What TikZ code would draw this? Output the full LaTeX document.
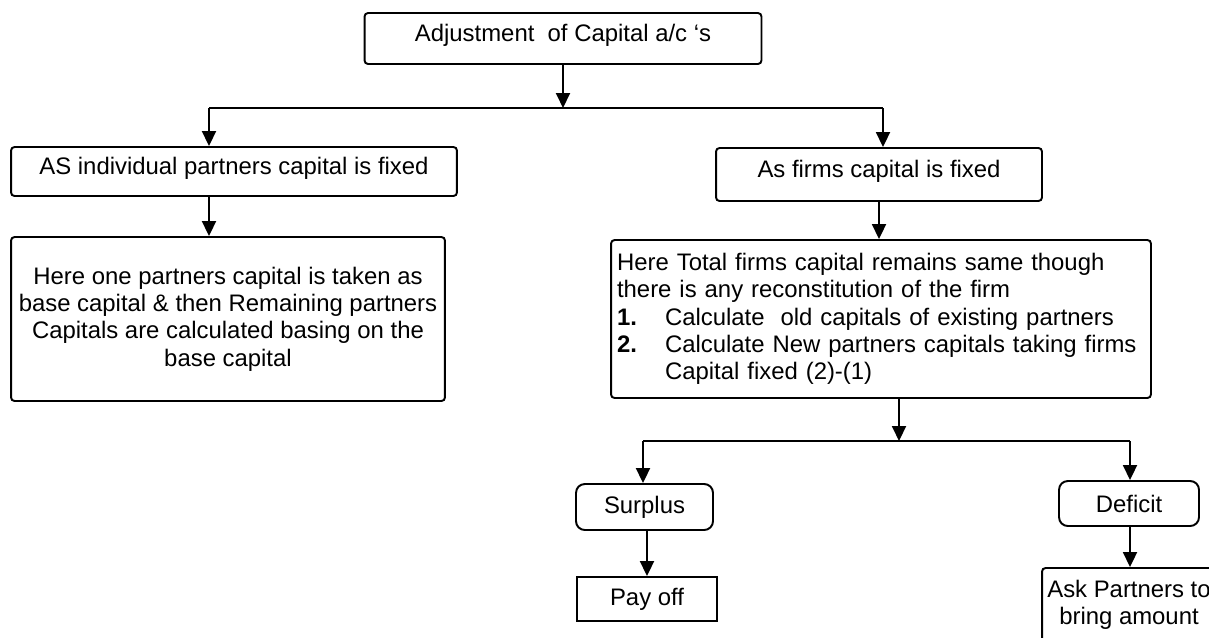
\documentclass[tikz,border=0pt]{standalone}
\usepackage{fontspec}
\setmainfont{Liberation Sans}
\usetikzlibrary{arrows.meta}

\begin{document}
\begin{tikzpicture}
        [x=0.02cm, y=-0.02cm,
        every node/.style={font=\fontsize{13.6}{15.5}\selectfont},
        box/.style={draw, line width=1.1pt, rounded corners=2pt, inner sep=0pt},
        roundbox/.style={box, rounded corners=5pt},
        plainbox/.style={box, sharp corners},
        raised/.style={text height=0.75em, text depth=0.45em},
        line/.style={line width=1.1pt, black},
        arrow/.style={line, -{Triangle[width=0.28cm, length=0.3cm]}}]

        % page frame (the last box runs off the edge)
        \clip (0,0) rectangle (1209,637);

        % first two levels
        \node[box, raised, minimum width=7.94cm, minimum height=1.02cm] (adjust) at (563,38.5) {Adjustment\ \ of Capital a/c `s};
        \node[box, raised, minimum width=8.92cm, minimum height=0.98cm] (indiv) at (234,171.5) {AS individual partners capital is fixed};
        \node[box, raised, minimum width=6.52cm, minimum height=1.06cm] (firms) at (879,174.5) {As firms capital is fixed};

        % the two explanations
        \node[box, minimum width=8.68cm, minimum height=3.28cm, align=center] (base) at (228,319)
            {Here one partners capital is taken as\\ base capital \& then Remaining partners\\ Capitals are calculated basing on the\\ base capital};
        \node[box, minimum width=10.8cm, minimum height=3.16cm, inner xsep=0.12cm, text width=10.56cm, align=left] (total) at (881,319)
            {Here Total firms capital remains same though\\
             there is any reconstitution of the firm\\
             \makebox[0.96cm][l]{\bfseries 1.}Calculate\ \ old capitals of existing partners\\
             \makebox[0.96cm][l]{\bfseries 2.}Calculate New partners capitals taking firms\\
             \hspace*{0.96cm}Capital fixed (2)-(1)};

        % surplus / deficit
        \node[roundbox, minimum width=2.74cm, minimum height=0.92cm] (surplus) at (644.5,507) {Surplus};
        \node[plainbox, minimum width=2.8cm, minimum height=0.88cm] (payoff) at (647,599) {Pay off};
        \node[roundbox, minimum width=2.8cm, minimum height=0.9cm] (deficit) at (1129,503.5) {Deficit};
        \node[box, minimum width=3.48cm, minimum height=1.48cm, align=center] (ask) at (1129,605) {Ask Partners to\\ bring amount};

        % junction points
        \coordinate (lsplit) at (209,108);
        \coordinate (rsplit) at (883,108);
        \coordinate (bsplit) at (899,441);
        \coordinate (sl) at (643,441);
        \coordinate (sr) at (1130,441);

        % connectors
        \draw[arrow] (adjust.south) -- (adjust.south |- lsplit);
        \draw[line] (lsplit) -- (rsplit);
        \draw[arrow] (lsplit) -- (lsplit |- indiv.north);
        \draw[arrow] (rsplit) -- (rsplit |- firms.north);
        \draw[arrow] (lsplit |- indiv.south) -- (lsplit |- base.north);
        \draw[arrow] (firms.south) -- (firms.south |- total.north);
        \draw[arrow] (bsplit |- total.south) -- (bsplit);
        \draw[line] (sl) -- (sr);
        \draw[arrow] (sl) -- (sl |- surplus.north);
        \draw[arrow] (sr) -- (sr |- deficit.north);
        \draw[arrow] (payoff.north |- surplus.south) -- (payoff.north);
        \draw[arrow] (sr |- deficit.south) -- (sr |- ask.north);

    \end{tikzpicture}
\end{document}
